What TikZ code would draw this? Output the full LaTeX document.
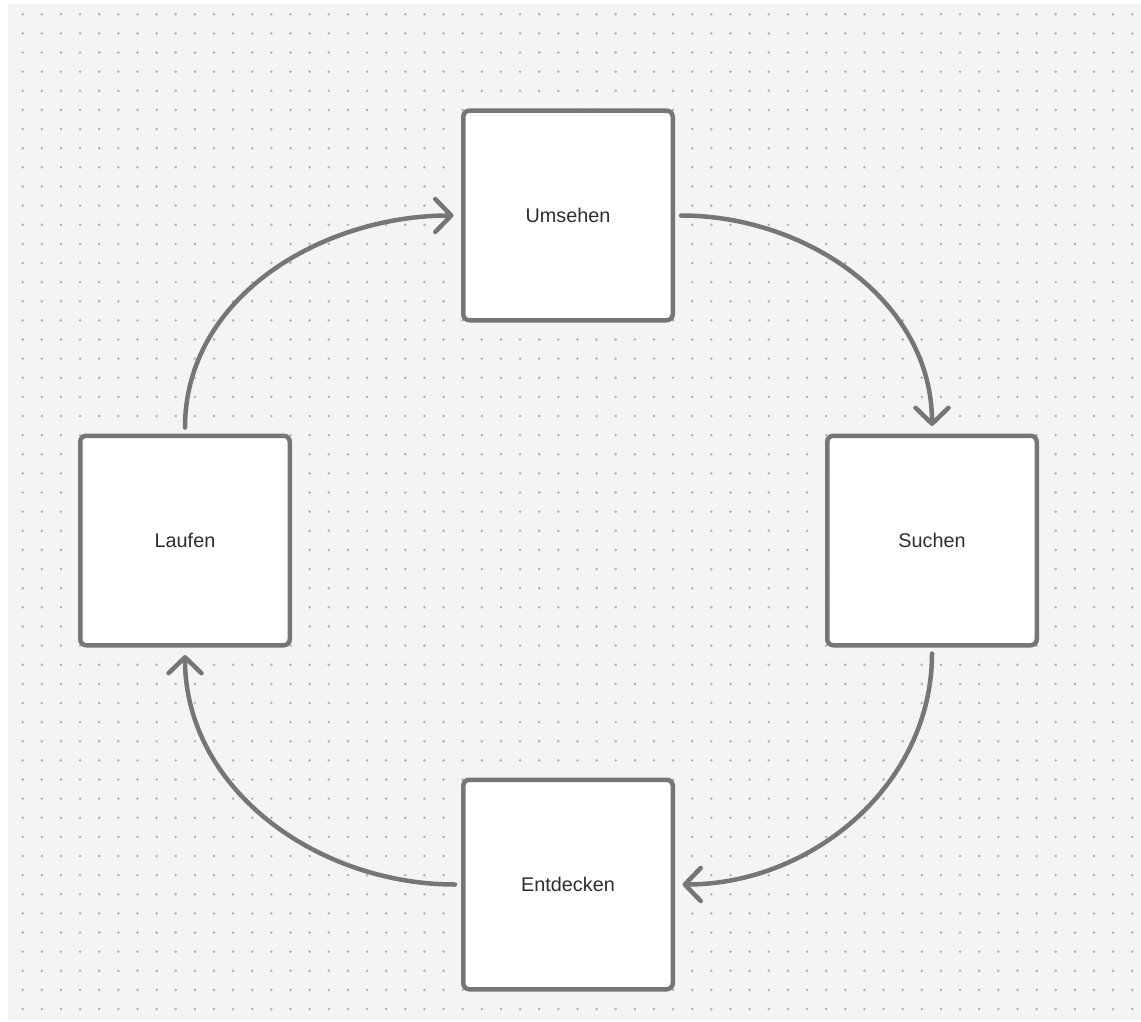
\documentclass[tikz,border=0pt]{standalone}
\usepackage{fontspec}
\setmainfont{Liberation Sans}
\usetikzlibrary{arrows.meta,positioning}
\definecolor{linegray}{HTML}{767676}
\definecolor{paper}{HTML}{F4F4F4}
\definecolor{dotgray}{HTML}{ADADAD}
\definecolor{textgray}{HTML}{2E2E2E}

\begin{document}
\begin{tikzpicture}[x=1pt, y=1pt, on grid, thick,
    box/.style = {draw=linegray, line width=4.5pt, fill=white, rounded corners=6pt, minimum size=209.5pt, inner sep=0pt, text=textgray, font=\fontsize{19.8}{24}\selectfont},
    flow/.style = {draw=linegray, line width=4.5pt, line cap=round, -{Straight Barb[length=16pt,width=33pt,round]}, shorten <=6pt, shorten >=7.5pt}]
    \useasboundingbox (0,0) rectangle (1141,-1022);
    % dotted paper
    \fill[paper] (8,-4) rectangle (1141,-1020);
    \foreach \i in {0,...,58}
      \foreach \j in {0,...,52}
        \fill[dotgray] (22.7+19.13*\i, -14.3-19.13*\j) circle (1.35);
    \node[box] (U) at (568,-215.5) {Umsehen};
    \node[box] (L) [below left=325pt and 383pt of U] {Laufen};
    \node[box] (S) [below right=325pt and 364pt of U] {Suchen};
    \node[box] (E) [below=669pt of U] {Entdecken};
    \draw[flow] (U.east) to[out=0,in=90] (S.north);
    \draw[flow] (S.south) to[out=-90,in=0] (E.east);
    \draw[flow] (E.west) to[out=180,in=-90] (L.south);
    \draw[flow] (L.north) to[out=90,in=180] (U.west);
\end{tikzpicture}
\end{document}
